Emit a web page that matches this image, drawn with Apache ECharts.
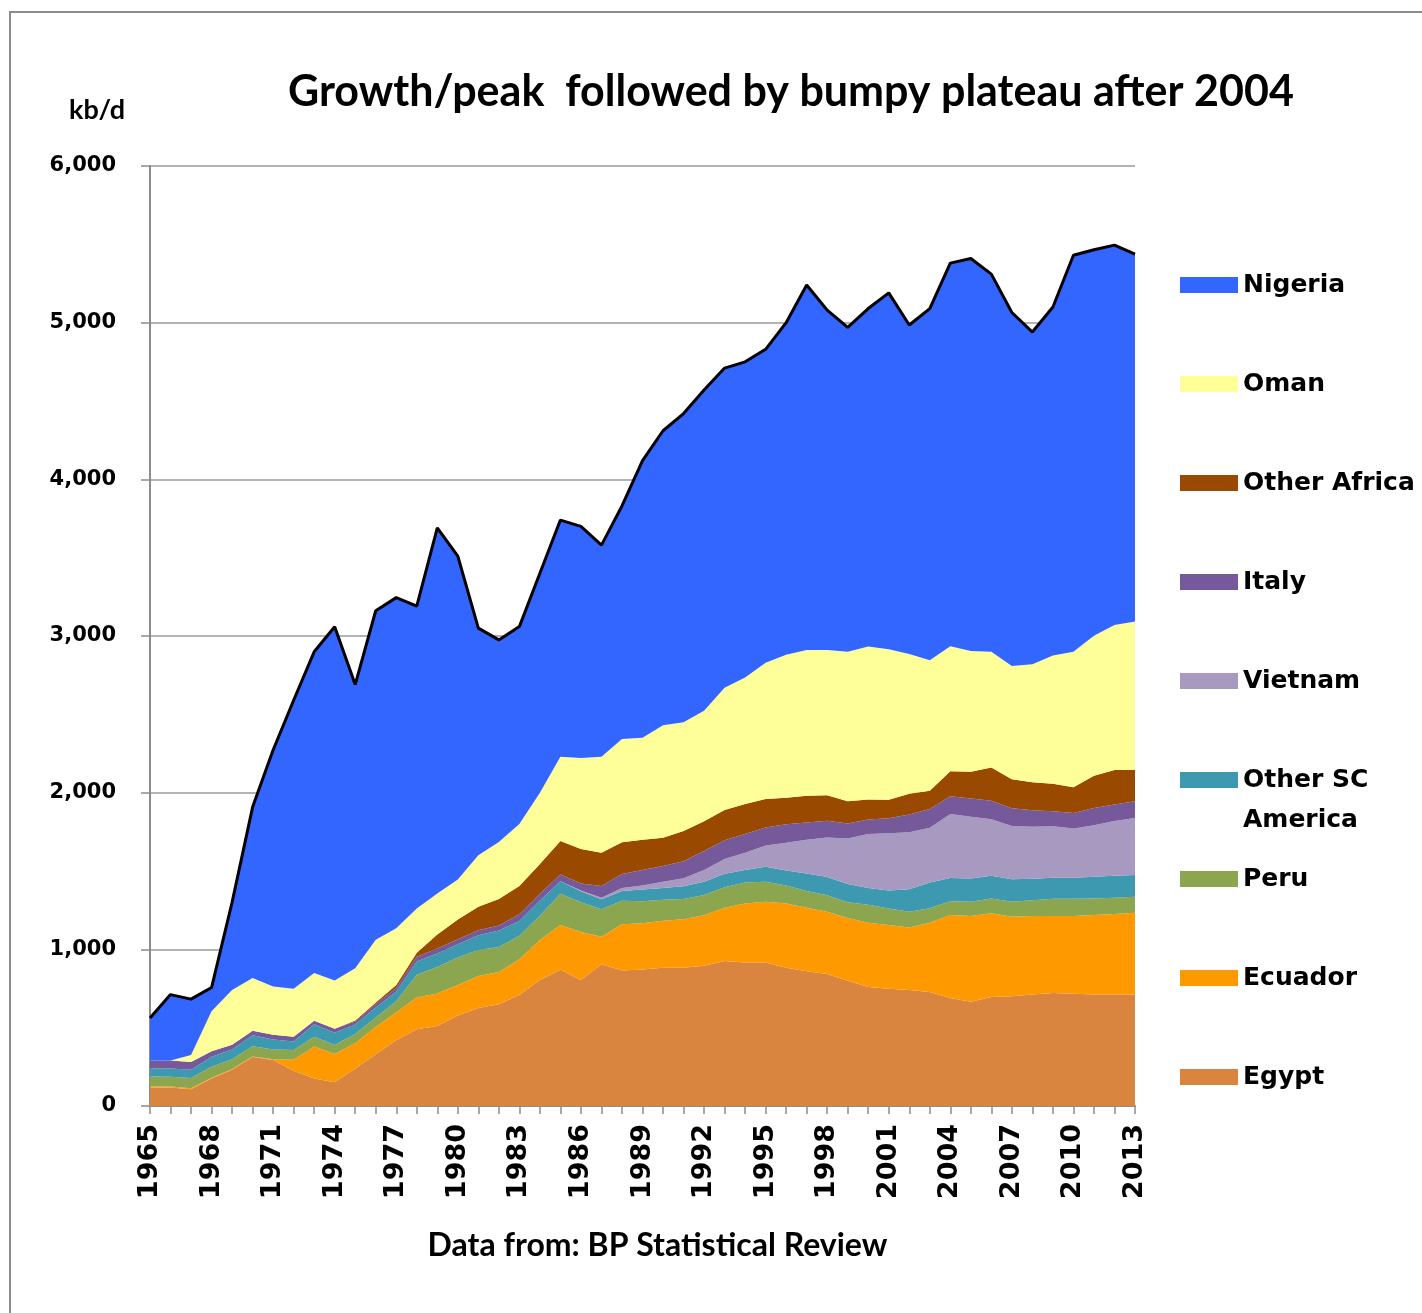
<!DOCTYPE html>
<html>
<head>
<meta charset="utf-8">
<title>Growth/peak followed by bumpy plateau after 2004</title>
<script src="https://cdn.jsdelivr.net/npm/echarts@6.0.0/dist/echarts.min.js"></script>
<style>
html, body { margin: 0; padding: 0; background: #fff; }
#mychart { width: 1422px; height: 1313px; }
</style>
</head>
<body>
<div id="mychart"></div>
<script>
// years on the x axis
var years = ['1965', '1966', '1967', '1968', '1969', '1970', '1971', '1972', '1973', '1974',
    '1975', '1976', '1977', '1978', '1979', '1980', '1981', '1982', '1983', '1984',
    '1985', '1986', '1987', '1988', '1989', '1990', '1991', '1992', '1993', '1994',
    '1995', '1996', '1997', '1998', '1999', '2000', '2001', '2002', '2003', '2004',
    '2005', '2006', '2007', '2008', '2009', '2010', '2011', '2012', '2013'];

// kb/d (bottom of the stack first)
var egypt = [118, 118, 107, 175, 232, 312, 294, 225, 175, 152,
    240, 330, 420, 490, 510, 578, 625, 650, 708, 805,
    870, 805, 904, 865, 872, 882, 882, 895, 925, 916,
    916, 882, 860, 842, 800, 760, 749, 740, 727, 690,
    665, 695, 700, 711, 722, 716, 711, 711, 711];
var ecuador = [8, 7, 6, 5, 4, 4, 4, 70, 205, 180,
    160, 175, 178, 202, 208, 195, 205, 205, 228, 255,
    285, 305, 177, 295, 295, 300, 310, 322, 340, 377,
    388, 410, 405, 398, 400, 410, 406, 400, 443, 529,
    548, 535, 508, 502, 491, 497, 508, 514, 523];
var peru = [62, 62, 65, 70, 62, 66, 62, 63, 62, 58,
    60, 60, 70, 145, 170, 175, 165, 160, 150, 155,
    200, 190, 175, 150, 140, 135, 130, 130, 132, 133,
    128, 115, 108, 105, 100, 115, 105, 100, 93, 88,
    90, 95, 95, 100, 110, 110, 105, 105, 102];
var otherSCAmerica = [53, 53, 53, 64, 63, 70, 64, 54, 80, 78,
    60, 64, 63, 86, 85, 85, 95, 105, 95, 96,
    80, 70, 64, 63, 75, 75, 81, 85, 85, 80,
    95, 96, 111, 117, 117, 107, 116, 143, 163, 149,
    149, 145, 144, 137, 134, 134, 140, 139, 138];
var vietnam = [0, 0, 0, 0, 0, 0, 0, 0, 0, 0,
    0, 0, 0, 0, 0, 0, 0, 0, 0, 0,
    0, 5, 10, 18, 25, 40, 50, 75, 95, 110,
    135, 178, 215, 252, 290, 344, 365, 365, 350, 408,
    394, 361, 340, 332, 329, 315, 328, 350, 365];
var italy = [50, 50, 50, 35, 30, 28, 30, 30, 22, 25,
    20, 22, 22, 30, 32, 32, 32, 32, 43, 43,
    42, 45, 74, 90, 100, 100, 110, 120, 120, 120,
    116, 117, 111, 106, 96, 92, 95, 113, 120, 113,
    117, 117, 113, 106, 96, 99, 110, 106, 107];
var otherAfrica = [0, 0, 0, 0, 0, 0, 0, 0, 0, 0,
    5, 10, 20, 25, 90, 125, 150, 170, 180, 190,
    215, 220, 213, 202, 192, 181, 192, 191, 192, 191,
    181, 170, 170, 164, 142, 128, 118, 132, 117, 159,
    170, 213, 185, 179, 175, 164, 206, 219, 200];
var oman = [0, 0, 45, 255, 350, 337, 309, 307, 305, 308,
    335, 400, 362, 282, 262, 255, 328, 363, 396, 456,
    538, 582, 613, 659, 651, 718, 695, 705, 781, 808,
    871, 912, 930, 926, 955, 977, 961, 892, 833, 799,
    772, 738, 723, 752, 819, 864, 893, 926, 947];
var nigeria = [271, 421, 356, 152, 559, 1091, 1509, 1841, 2050, 2258,
    1810, 2100, 2110, 1930, 2333, 2065, 1450, 1290, 1260, 1400,
    1510, 1478, 1350, 1488, 1770, 1879, 1970, 2047, 2040, 2015,
    2000, 2120, 2330, 2170, 2070, 2157, 2275, 2100, 2244, 2445,
    2505, 2411, 2257, 2121, 2224, 2531, 2464, 2425, 2344];

var legendNames = ['Nigeria', 'Oman', 'Other Africa', 'Italy', 'Vietnam',
    'Other SC America', 'Peru', 'Ecuador', 'Egypt'];

var colors = {
    'Egypt': '#d98540',
    'Ecuador': '#ff9900',
    'Peru': '#8ca64f',
    'Other SC America': '#3d99b0',
    'Vietnam': '#a899c1',
    'Italy': '#76599b',
    'Other Africa': '#994a00',
    'Oman': '#ffff99',
    'Nigeria': '#3366ff'
};

var axisGrey = '#8c8c8c';

//一层堆叠面积
function makeArea(name, data) {
    return {
        name: name,
        type: 'line',
        stack: 'total',
        data: data,
        symbol: 'none',
        itemStyle: { color: colors[name] },
        lineStyle: { width: 0 },
        areaStyle: { color: colors[name], opacity: 1 },
        emphasis: { disabled: true }
    };
}

var series = [
    makeArea('Egypt', egypt),
    makeArea('Ecuador', ecuador),
    makeArea('Peru', peru),
    makeArea('Other SC America', otherSCAmerica),
    makeArea('Vietnam', vietnam),
    makeArea('Italy', italy),
    makeArea('Other Africa', otherAfrica),
    makeArea('Oman', oman),
    makeArea('Nigeria', nigeria)
];
// black outline along the top of the stack
series[8].lineStyle = { color: '#000', width: 3 };

var myChart = echarts.init(document.getElementById('mychart'));
myChart.setOption({
    animation: false,
    backgroundColor: '#fff',
    title: {
        text: 'Growth/peak  followed by bumpy plateau after 2004',
        left: 283,
        top: 66,
        textStyle: {
            fontFamily: 'Lato',
            fontWeight: 'bold',
            fontSize: 43,
            color: '#000'
        }
    },
    legend: {
        orient: 'vertical',
        left: 1180,
        top: 270,
        padding: 0,
        itemGap: 69,
        itemWidth: 58,
        itemHeight: 16,
        icon: 'rect',
        selectedMode: false,
        data: legendNames,
        itemStyle: { borderWidth: 0 },
        formatter: function (name) {
            return name == 'Other SC America' ? 'Other SC' : name;
        },
        textStyle: {
            fontFamily: 'DejaVu Sans',
            fontWeight: 'bold',
            fontSize: 25,
            lineHeight: 30,
            color: '#000'
        }
    },
    graphic: [
        {
            type: 'rect',
            silent: true,
            shape: { x: 10, y: 12, width: 1450, height: 1340 },
            style: { fill: 'none', stroke: '#8c8c8c', lineWidth: 2 }
        },
        {
            type: 'text',
            left: 1243,
            top: 808,
            silent: true,
            style: {
                text: 'America',
                fontFamily: 'DejaVu Sans',
                fontWeight: 'bold',
                fontSize: 25,
                fill: '#000'
            }
        }
    ],
    grid: {
        left: 150,
        right: 287,
        top: 166,
        bottom: 207
    },
    xAxis: {
        type: 'category',
        boundaryGap: false,
        data: years,
        name: 'Data from: BP Statistical Review',
        nameLocation: 'middle',
        nameGap: 124,
        nameTextStyle: {
            fontFamily: 'Lato',
            fontWeight: 'bold',
            fontSize: 32,
            color: '#000',
            padding: [0, 0, 0, 30]
        },
        axisLine: { lineStyle: { color: axisGrey, width: 2 } },
        axisTick: {
            interval: 0,
            length: 8,
            lineStyle: { color: axisGrey, width: 1.5 }
        },
        axisLabel: {
            interval: 2,
            rotate: 90,
            margin: 18,
            fontFamily: 'DejaVu Sans',
            fontWeight: 'bold',
            fontSize: 27,
            color: '#000'
        },
        splitLine: { show: false }
    },
    yAxis: {
        type: 'value',
        min: 0,
        max: 6000,
        interval: 1000,
        name: 'kb/d',
        nameLocation: 'end',
        nameGap: 42,
        nameTextStyle: {
            fontFamily: 'Lato',
            fontWeight: 'bold',
            fontSize: 27,
            color: '#000',
            align: 'right',
            padding: [0, 25, 0, 0]
        },
        axisLine: { show: true, lineStyle: { color: axisGrey, width: 2 } },
        axisTick: { show: true, length: 9, lineStyle: { color: axisGrey, width: 1.5 } },
        axisLabel: {
            margin: 34,
            fontFamily: 'DejaVu Sans',
            fontWeight: 'bold',
            fontSize: 21,
            color: '#000',
            formatter: function (v) {
                return v.toLocaleString('en-US');
            }
        },
        splitLine: { lineStyle: { color: '#9a9a9a', width: 1.5 } }
    },
    series: series
});
</script>
</body>
</html>
